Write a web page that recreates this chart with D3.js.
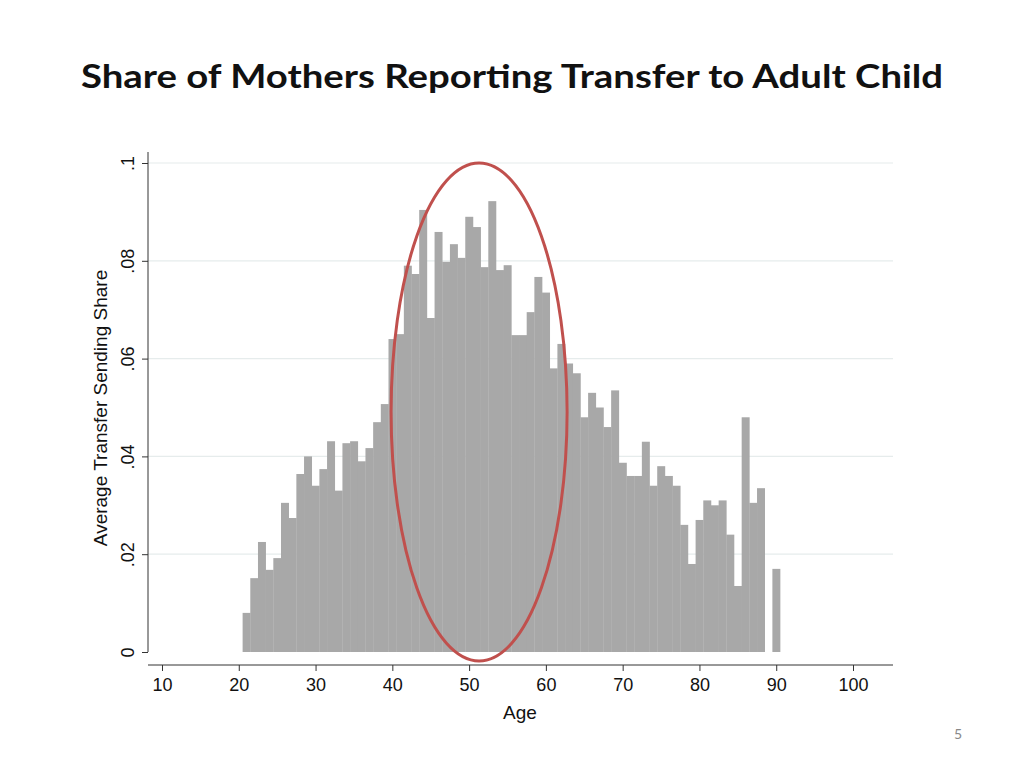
<!DOCTYPE html>
<html><head><meta charset="utf-8">
<script src="https://cdn.jsdelivr.net/npm/d3@7/dist/d3.min.js"></script>
<style>body{margin:0;background:#fff;}</style>
</head><body>
<svg id="c" width="1024" height="768"></svg>
<script>
const ages = [21,22,23,24,25,26,27,28,29,30,31,32,33,34,35,36,37,38,39,40,41,42,43,44,45,46,47,48,49,50,51,52,53,54,55,56,57,58,59,60,61,62,63,64,65,66,67,68,69,70,71,72,73,74,75,76,77,78,79,80,81,82,83,84,85,86,87,88,90];
const shares = [0.008,0.0151,0.0225,0.0168,0.0192,0.0305,0.0274,0.0364,0.040,0.034,0.0374,0.0431,0.033,0.0427,0.0431,0.039,0.0417,0.047,0.0507,0.064,0.065,0.079,0.0773,0.0904,0.0683,0.0859,0.0798,0.0834,0.0806,0.089,0.0869,0.0787,0.0922,0.0781,0.0791,0.0648,0.0648,0.0695,0.0767,0.0735,0.058,0.063,0.059,0.057,0.048,0.053,0.050,0.046,0.0535,0.0387,0.036,0.036,0.043,0.034,0.038,0.036,0.034,0.026,0.018,0.027,0.031,0.030,0.031,0.024,0.0135,0.048,0.0305,0.0335,0.017];
const xTicks = [10,20,30,40,50,60,70,80,90,100];
const yTicks = [0,0.02,0.04,0.06,0.08,0.1];
const yTickLabels = ["0",".02",".04",".06",".08",".1"];

const svg = d3.select("#c");
const x = d3.scaleLinear().domain([10,100]).range([162,853]);
const y = d3.scaleLinear().domain([0,0.1]).range([652,163]);

svg.append("text").attr("x",512).attr("y",88).attr("text-anchor","middle")
  .attr("font-family","Lato").attr("font-weight","bold").attr("font-size",33)
  .attr("textLength",862).attr("lengthAdjust","spacingAndGlyphs")
  .attr("fill","#111").text("Share of Mothers Reporting Transfer to Adult Child");

// gridlines
svg.append("g").selectAll("line").data(yTicks.slice(1)).join("line")
  .attr("x1",148).attr("x2",893).attr("y1",d=>y(d)).attr("y2",d=>y(d))
  .attr("stroke","#e6ecec").attr("stroke-width",1.2);

// bars
svg.append("g").selectAll("rect").data(ages).join("rect")
  .attr("x",d=>x(d-0.5)).attr("width",x(1)-x(0)+0.3)
  .attr("y",(d,i)=>y(shares[i])).attr("height",(d,i)=>y(0)-y(shares[i]))
  .attr("fill","#a8a8a8");

// y axis
const ya = d3.axisLeft(y).tickValues(yTicks).tickSize(6).tickFormat((d,i)=>yTickLabels[i]);
const gy = svg.append("g").attr("transform","translate(148,0)").call(ya);
gy.select(".domain").attr("d","M0,152V652").attr("stroke","#333");
gy.selectAll(".tick line").attr("stroke","#333");
gy.selectAll(".tick text").attr("font-family","Liberation Sans").attr("font-size",18).attr("fill","#111")
  .attr("transform",function(){return "translate(-14,0) rotate(-90)";}).attr("x",0).attr("dy","0").attr("text-anchor","middle");

// x axis
const xa = d3.axisBottom(x).tickValues(xTicks).tickSize(6).tickFormat(d3.format("d"));
const gx = svg.append("g").attr("transform","translate(0,665)").call(xa);
gx.select(".domain").attr("d","M148,0H893").attr("stroke","#333");
gx.selectAll(".tick line").attr("stroke","#333");
gx.selectAll(".tick text").attr("font-family","Liberation Sans").attr("font-size",18).attr("fill","#111").attr("dy","0.95em");

svg.append("text").attr("x",520).attr("y",719).attr("text-anchor","middle")
  .attr("font-family","Liberation Sans").attr("font-size",19).attr("fill","#111").text("Age");
svg.append("text").attr("transform","translate(107,408) rotate(-90)").attr("text-anchor","middle")
  .attr("font-family","Liberation Sans").attr("font-size",19).attr("fill","#111").text("Average Transfer Sending Share");

// ellipse
svg.append("ellipse").attr("cx",x(51.3)).attr("cy",412).attr("rx",88).attr("ry",249)
  .attr("fill","none").attr("stroke","#c0504d").attr("stroke-width",3);

svg.append("text").attr("x",958).attr("y",739).attr("text-anchor","middle")
  .attr("font-family","Lato").attr("font-size",14).attr("fill","#888").text("5");
</script>
</body></html>
